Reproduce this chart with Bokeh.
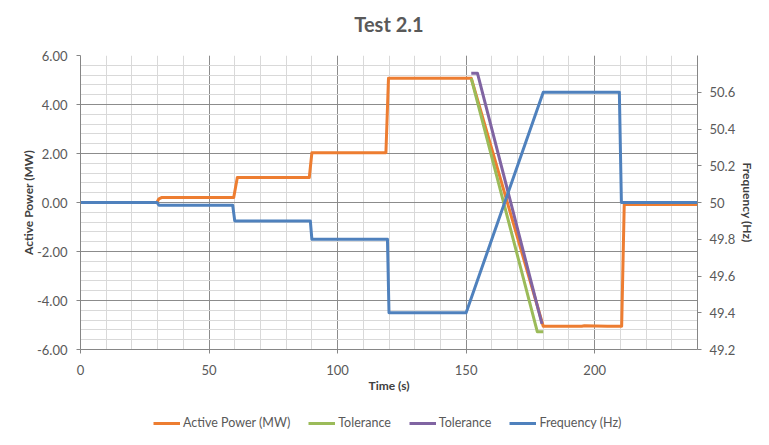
from bokeh.plotting import figure
from bokeh.layouts import column
from bokeh.models import (Range1d, LinearAxis, SingleIntervalTicker, NumeralTickFormatter,
                          CustomJSTickFormatter, Legend, LegendItem, Title)
from bokeh.embed import file_html
from bokeh.resources import INLINE

# ---- data ----
power_t = [0, 29.7, 30.5, 31.5, 59.6, 61.0, 89.0, 90.0, 118.8, 119.8, 152.0, 180.0,
           195.0, 196.0, 205.0, 210.5, 211.5, 240]
power_mw = [0.0, 0.0, 0.15, 0.2, 0.2, 1.02, 1.02, 2.03, 2.03, 5.07, 5.07, -5.05,
            -5.05, -5.03, -5.05, -5.05, -0.08, -0.08]

tol_low_t = [152.0, 177.7, 180.0]
tol_low_mw = [5.07, -5.28, -5.28]

tol_high_t = [152.0, 154.4, 179.5]
tol_high_mw = [5.28, 5.28, -4.95]

freq_t = [0, 29.8, 30.5, 59.2, 60.0, 89.4, 90.0, 119.4, 120.0, 150.0, 180.0, 209.6, 210.4, 240]
freq_hz = [50.0, 50.0, 49.985, 49.985, 49.9, 49.9, 49.8, 49.8, 49.4, 49.4, 50.6, 50.6, 50.0, 50.0]

x_range = (0, 240)
power_range = (-6, 6)
freq_range = (49.2, 50.8)

title_text = "Test 2.1"
x_label = "Time (s)"
y_label = "Active Power (MW)"
y2_label = "Frequency (Hz)"
legend_labels = ["Active Power (MW)", "Tolerance", "Tolerance", "Frequency (Hz)"]

C_POWER = "#ED7D31"
C_LOW = "#9BBB59"
C_HIGH = "#8064A2"
C_FREQ = "#4F81BD"

FONT = "Lato"
TXT = "#595959"

series = [
    (power_t, power_mw, C_POWER, "default"),
    (tol_low_t, tol_low_mw, C_LOW, "default"),
    (tol_high_t, tol_high_mw, C_HIGH, "default"),
    (freq_t, freq_hz, C_FREQ, "freq"),
]

p = figure(frame_width=617, frame_height=294, output_backend="svg", toolbar_location=None,
           x_range=Range1d(*x_range), y_range=Range1d(*power_range),
           min_border_left=80, min_border_right=72, min_border_top=55, min_border_bottom=56)
p.extra_y_ranges = {"freq": Range1d(*freq_range)}
p.outline_line_color = None
p.background_fill_color = "white"
p.border_fill_color = "white"

# spacer title (closest to the frame), then the real title above it
p.add_layout(Title(text=" ", text_font_size="1px", standoff=12), "above")
p.add_layout(Title(text=title_text, align="center", text_font=FONT, text_font_size="20px",
                   text_font_style="bold", text_color=TXT, standoff=10), "above")

AX = "#868686"

xa = p.xaxis[0]
xa.ticker = SingleIntervalTicker(interval=50, num_minor_ticks=5)
ya = p.yaxis[0]
ya.ticker = SingleIntervalTicker(interval=2, num_minor_ticks=5)
ya.formatter = NumeralTickFormatter(format="0.00")

ya2 = LinearAxis(y_range_name="freq", ticker=SingleIntervalTicker(interval=0.2, num_minor_ticks=0),
                 formatter=CustomJSTickFormatter(code="return String(Math.round(tick*10)/10);"))
p.add_layout(ya2, "right")

for ax in (xa, ya, ya2):
    ax.axis_line_color = AX
    ax.major_tick_line_color = AX
    ax.major_tick_out = 4
    ax.major_tick_in = 0
    ax.minor_tick_out = 0
    ax.minor_tick_in = 0
    ax.major_label_text_font = FONT
    ax.major_label_text_font_size = "13px"
    ax.major_label_text_color = TXT
    ax.axis_label_text_font = FONT
    ax.axis_label_text_font_size = "12px"
    ax.axis_label_text_font_style = "bold"
    ax.axis_label_text_color = "#404040"

xa.axis_label = x_label
ya.axis_label = y_label
ya2.axis_label = y2_label
xa.major_label_standoff = 11
xa.axis_label_standoff = 0
ya.major_label_standoff = 9
ya.axis_label_standoff = -2
ya2.major_label_standoff = 8
ya2.axis_label_standoff = 2

p.xgrid.ticker = xa.ticker
p.ygrid.ticker = ya.ticker
for g in (p.xgrid, p.ygrid):
    g.grid_line_color = "#8c8c8c"
    g.grid_line_width = 1
    g.minor_grid_line_color = "#d9d9d9"
    g.minor_grid_line_width = 1

for xs, ys, col, rng in series:
    p.line(xs, ys, y_range_name=rng, line_color=col, line_width=3, line_join="round")

# ---- legend strip below the chart (its lines sit outside its own visible range) ----
lg = figure(width=769, height=40, output_backend="svg", toolbar_location=None,
            x_range=Range1d(1000, 1001), y_range=Range1d(1000, 1001),
            x_axis_type=None, y_axis_type=None, min_border=0)
lg.outline_line_color = None
lg.background_fill_color = "white"
lg.border_fill_color = "white"
items = []
for lab, (xs, ys, col, rng) in zip(legend_labels, series):
    r = lg.line(xs, ys, line_color=col, line_width=3)
    items.append(LegendItem(label=lab, renderers=[r]))
legend = Legend(items=items, orientation="horizontal", location=(73, 15))
legend.glyph_width = 27
legend.glyph_height = 12
legend.label_standoff = 3
legend.spacing = 18
legend.padding = 4
legend.margin = 0
legend.border_line_color = None
legend.background_fill_alpha = 0
legend.label_text_font = FONT
legend.label_text_font_size = "12.5px"
legend.label_text_color = TXT
lg.add_layout(legend, "center")

layout = column(p, lg, spacing=0)
open("out.html", "w").write(file_html(layout, INLINE))
